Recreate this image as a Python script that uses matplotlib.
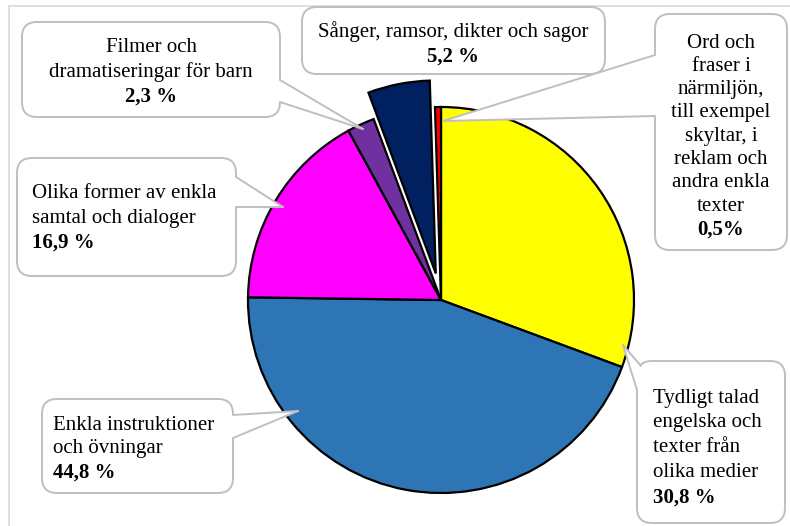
import numpy as np
import matplotlib
matplotlib.use("Agg")
import matplotlib.pyplot as plt
from matplotlib.patches import FancyBboxPatch, Polygon

plt.rcParams["font.family"] = ["Liberation Serif", "DejaVu Serif"]

W, H = 790, 526

# -----------------------
# Data (clockwise from 12 o'clock)
# -----------------------
labels = [
    "Tydligt talad\nengelska och\ntexter från\nolika medier",
    "Enkla instruktioner\noch övningar",
    "Olika former av enkla\nsamtal och dialoger",
    "Filmer och\ndramatiseringar för barn",
    "Sånger, ramsor, dikter och sagor",
    "Ord och\nfraser i\nnärmiljön,\ntill exempel\nskyltar, i\nreklam och\nandra enkla\ntexter",
]
shares = [30.8, 44.8, 16.9, 2.3, 5.2, 0.5]
pct_text = ["30,8 %", "44,8 %", "16,9 %", "2,3 %", "5,2 %", "0,5%"]
colors = ["#FFFF00", "#2E75B6", "#FF00FF", "#7030A0", "#002060", "#FF0000"]

# -----------------------
# Layout (pixels, y measured from top)
# -----------------------
cx, cy, R = 441, 300, 193
explode = [0, 0, 0, 0, 27, 0]

# box (x0, y0, x1, y1); ptr = (base a, base b, tip); text x, alignment, first line y, line step
callouts = [
    dict(box=(637, 361, 785, 523), ptr=((641, 366), (637, 390), (623, 345)), tx=653, ha="left", y0=398, dy=24.8),
    dict(box=(42, 399, 233, 493), ptr=((233, 415), (233, 438), (298, 411)), tx=53, ha="left", y0=425, dy=24),
    dict(box=(17, 158, 236, 276), ptr=((236, 177), (236, 207), (283, 207)), tx=32, ha="left", y0=193, dy=25),
    dict(box=(22, 22, 280, 117), ptr=((280, 80), (280, 102), (363, 129)), tx=151, ha="center", y0=47, dy=25),
    dict(box=(302, 7, 605, 74), ptr=None, tx=453, ha="center", y0=32, dy=25),
    dict(box=(655, 14, 787, 250), ptr=((655, 55), (655, 116), (443, 121)), tx=721, ha="center", y0=43, dy=23.3),
]

box_edge = "#BFBFBF"
fs = 15


def Y(y):
    return H - y


fig = plt.figure(figsize=(W / 100, H / 100), dpi=100)
ax = fig.add_axes([0, 0, 1, 1])

ax.pie(shares, colors=colors, startangle=90, counterclock=False,
       center=(cx, Y(cy)), radius=R, explode=explode, frame=True,
       wedgeprops=dict(edgecolor="black", linewidth=1.6))

# chart area border (light gray, cut by the image edge on right/bottom)
ax.plot([9, 9], [Y(6), Y(H + 10)], color="#D9D9D9", lw=1.2, zorder=0.5)
ax.plot([9, W + 10], [Y(6), Y(6)], color="#D9D9D9", lw=1.2, zorder=0.5)

for lab, pct, c in zip(labels, pct_text, callouts):
    x0, y0, x1, y1 = c["box"]
    box = FancyBboxPatch((x0, Y(y1)), x1 - x0, y1 - y0,
                         boxstyle="round,pad=0,rounding_size=15",
                         facecolor="white", edgecolor=box_edge, lw=1.4, zorder=3)
    ax.add_patch(box)
    if c["ptr"] is not None:
        a, b, tip = [np.array(p, dtype=float) for p in c["ptr"]]
        ctr = np.array([(x0 + x1) / 2, (y0 + y1) / 2])
        a_in = a + 4 * (ctr - a) / np.linalg.norm(ctr - a)
        b_in = b + 4 * (ctr - b) / np.linalg.norm(ctr - b)
        pts = [tip, a, a_in, b_in, b]
        ax.add_patch(Polygon([(p[0], Y(p[1])) for p in pts], closed=True,
                             facecolor="white", edgecolor="none", zorder=4))
        for p in (a, b):
            ax.plot([tip[0], p[0]], [Y(tip[1]), Y(p[1])], color=box_edge,
                    lw=1.4, zorder=5, solid_capstyle="round")
    lines = lab.split("\n")
    for i, ln in enumerate(lines):
        ax.text(c["tx"], Y(c["y0"] + i * c["dy"]), ln, ha=c["ha"], va="center",
                fontsize=fs, color="black", zorder=6)
    ax.text(c["tx"], Y(c["y0"] + len(lines) * c["dy"]), pct, ha=c["ha"], va="center",
            fontsize=fs, fontweight="bold", color="black", zorder=6)

ax.set_xlim(0, W)
ax.set_ylim(0, H)
ax.set_aspect("equal")
ax.axis("off")

fig.savefig("out.png", dpi=100)
